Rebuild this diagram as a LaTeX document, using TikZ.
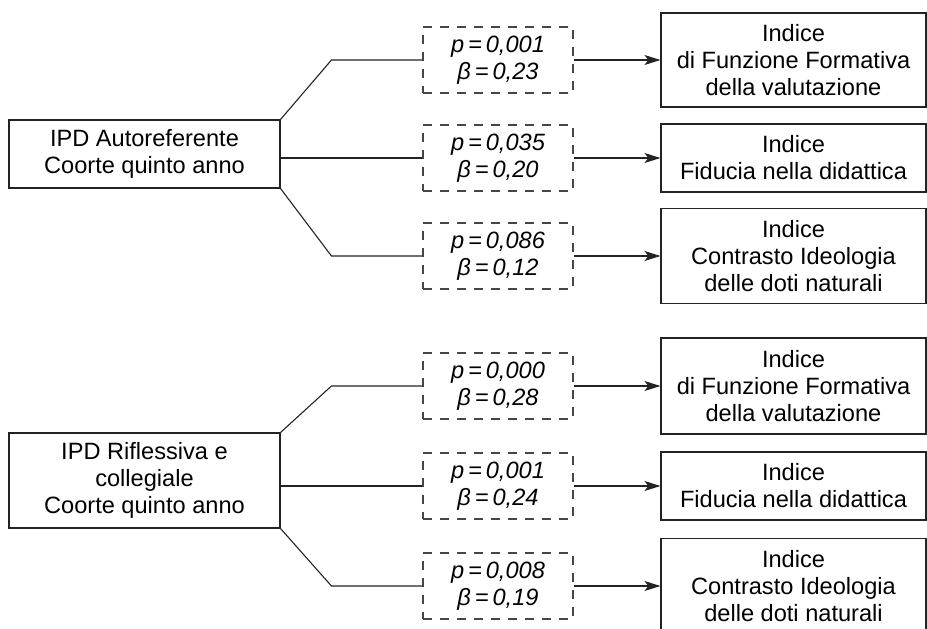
\documentclass[tikz,border=0pt]{standalone}
\usepackage{fontspec}
\setmainfont{Liberation Sans}
\usetikzlibrary{arrows.meta}
\definecolor{linegray}{RGB}{35,35,35}
\definecolor{dashgray}{RGB}{70,70,70}

\begin{document}
\begin{tikzpicture}[x=1pt, y=-1pt,
		testo/.style={font=\fontsize{23.6pt}{27pt}\selectfont, align=center},
		ipd/.style={testo, draw=linegray, line width=1.1pt, minimum width=271pt},
		indice/.style={testo, draw=linegray, line width=1.1pt, minimum width=265pt},
		stat/.style={testo, draw=dashgray, line width=1.1pt, dash pattern=on 9pt off 8pt,
			minimum width=150pt, minimum height=66pt, font=\fontsize{23.6pt}{27pt}\selectfont\itshape},
		ramo/.style={draw=linegray, line width=1.1pt},
		freccia/.style={ramo, -{Stealth[length=16pt, width=10pt, inset=4pt]}}]
		\useasboundingbox (0,0) rectangle (927,629);
		
		% Gruppo 1: IPD Autoreferente
		\node[ipd, minimum height=68pt] (ipdA) at (144.5, 154) {IPD Autoreferente\\Coorte quinto anno};
		
		\node[stat] (pA1) at (498, 60) {p\,=\,0,001\\β\,=\,0,23};
		\node[stat] (pA2) at (498, 158) {p\,=\,0,035\\β\,=\,0,20};
		\node[stat] (pA3) at (498, 256) {p\,=\,0,086\\β\,=\,0,12};
		
		\node[indice, minimum height=94pt] (iA1) at (793.5, 60) {Indice\\di Funzione Formativa\\della valutazione};
		\node[indice, minimum height=68pt] (iA2) at (793.5, 158) {Indice\\Fiducia nella didattica};
		\node[indice, minimum height=95pt] (iA3) at (793.5, 256) {Indice\\Contrasto Ideologia\\delle doti naturali};
		
		\draw[ramo] (ipdA.north east) -- ([xshift=-91pt]pA1.west) -- (pA1.west);
		\draw[ramo] (ipdA.east |- pA2.west) -- (pA2.west);
		\draw[ramo] (ipdA.south east) -- ([xshift=-91pt]pA3.west) -- (pA3.west);
		
		\draw[freccia] (pA1) -- (iA1);
		\draw[freccia] (pA2) -- (iA2);
		\draw[freccia] (pA3) -- (iA3);
		
		% Gruppo 2: IPD Riflessiva e collegiale
		\node[ipd, minimum height=95pt] (ipdB) at (144.5, 480.5) {IPD Riflessiva e\\collegiale\\Coorte quinto anno};
		
		\node[stat] (pB1) at (498, 386) {p\,=\,0,000\\β\,=\,0,28};
		\node[stat] (pB2) at (498, 486) {p\,=\,0,001\\β\,=\,0,24};
		\node[stat] (pB3) at (498, 586) {p\,=\,0,008\\β\,=\,0,19};
		
		\node[indice, minimum height=96pt] (iB1) at (793.5, 386) {Indice\\di Funzione Formativa\\della valutazione};
		\node[indice, minimum height=68pt] (iB2) at (793.5, 486) {Indice\\Fiducia nella didattica};
		\node[indice, minimum height=95pt] (iB3) at (793.5, 586) {Indice\\Contrasto Ideologia\\delle doti naturali};
		
		\draw[ramo] (ipdB.north east) -- ([xshift=-91pt]pB1.west) -- (pB1.west);
		\draw[ramo] (ipdB.east |- pB2.west) -- (pB2.west);
		\draw[ramo] (ipdB.south east) -- ([xshift=-91pt]pB3.west) -- (pB3.west);
		
		\draw[freccia] (pB1) -- (iB1);
		\draw[freccia] (pB2) -- (iB2);
		\draw[freccia] (pB3) -- (iB3);
	\end{tikzpicture}
\end{document}
